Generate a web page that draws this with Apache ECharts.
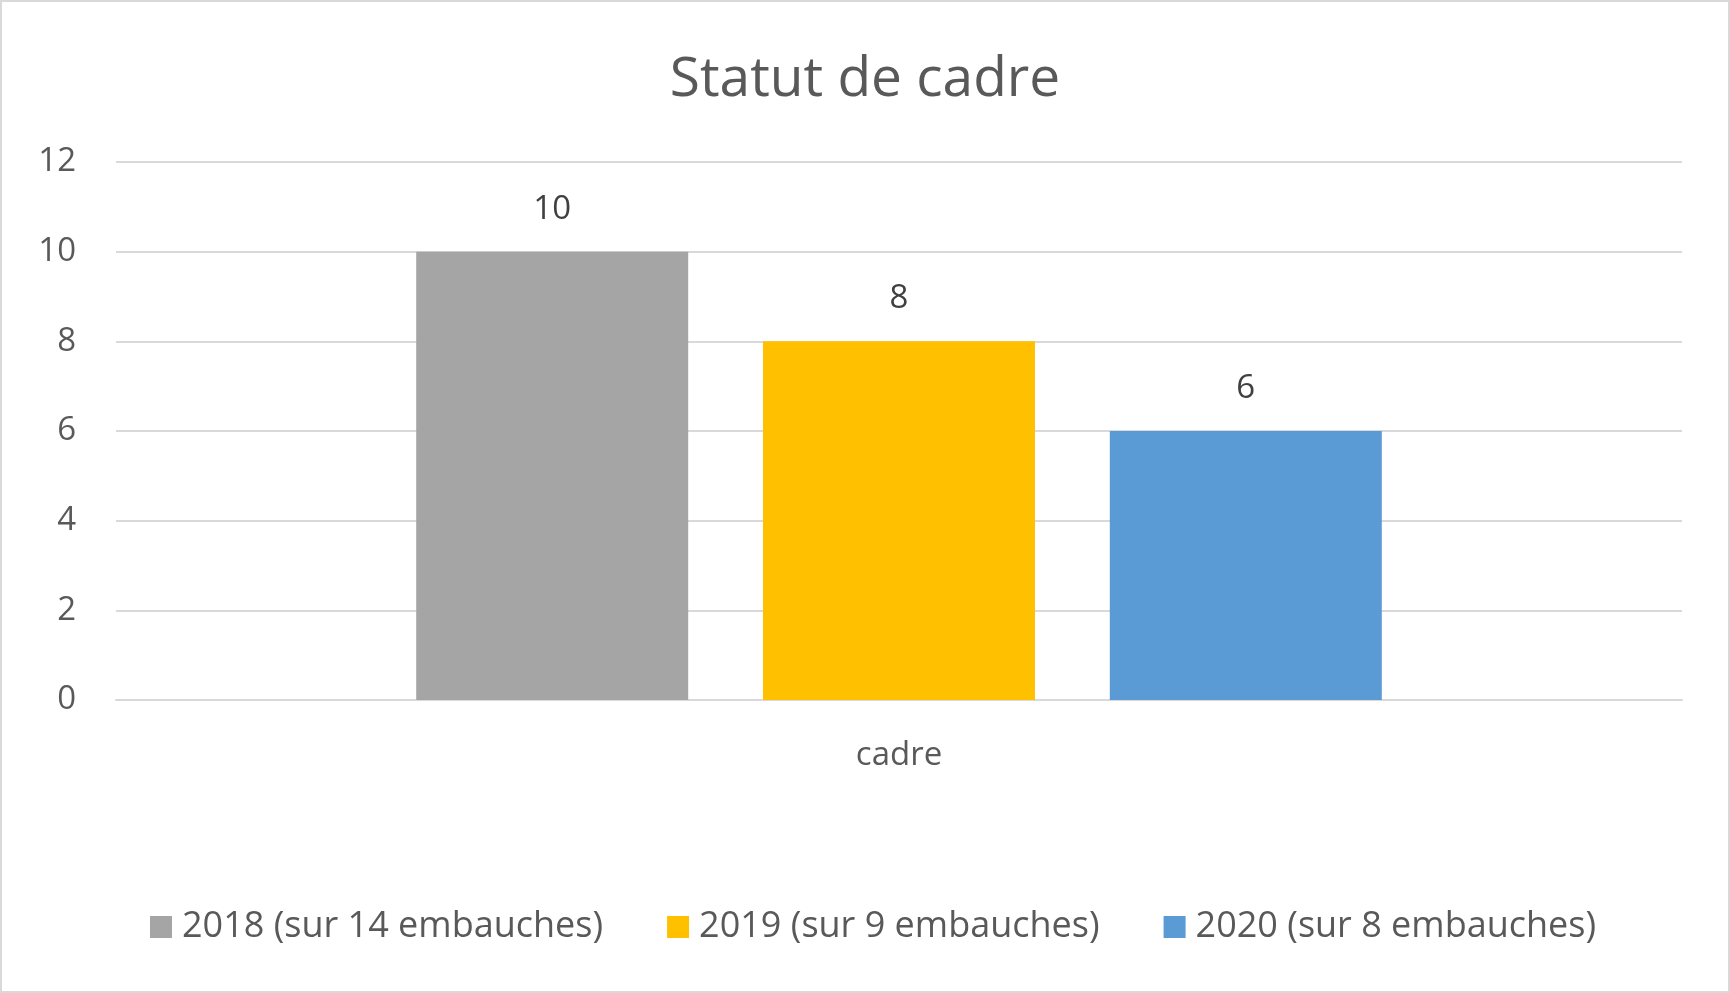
<!DOCTYPE html>
<html>
<head>
<meta charset="utf-8">
<script src="https://cdn.jsdelivr.net/npm/echarts@6/dist/echarts.min.js"></script>
<style>
html, body { margin: 0; padding: 0; background: #fff; }
#chart { width: 1730px; height: 993px; }
</style>
</head>
<body>
<div id="chart"></div>
<script>
var categories = ['cadre'];
var seriesNames = ['2018 (sur 14 embauches)', '2019 (sur 9 embauches)', '2020 (sur 8 embauches)'];
var values2018 = [10];
var values2019 = [8];
var values2020 = [6];
var colors = ['#a5a5a5', '#ffc000', '#5b9bd5'];

(function (bidDiv) {
    var font = 'Open Sans';
    var allValues = [values2018, values2019, values2020];
    var series = seriesNames.map(function (name, i) {
        return {
            name: name,
            type: 'bar',
            data: allValues[i],
            barWidth: 272,
            barGap: '27.5%',
            itemStyle: { color: colors[i] },
            label: {
                show: true,
                position: 'top',
                distance: 26,
                color: '#404040',
                fontFamily: font,
                fontSize: 33
            }
        };
    });
    var option = {
        animation: false,
        backgroundColor: '#fff',
        title: {
            text: 'Statut de cadre',
            left: 'center',
            top: 48,
            textStyle: { color: '#595959', fontFamily: font, fontSize: 55, fontWeight: 'normal' }
        },
        legend: {
            data: seriesNames,
            top: 909,
            left: 150,
            padding: 0,
            itemWidth: 22,
            itemHeight: 22,
            itemGap: 64,
            icon: 'rect',
            textStyle: { color: '#595959', fontFamily: font, fontSize: 36, padding: [0, 0, 0, 5] }
        },
        grid: { left: 116, right: 48, top: 162, bottom: 293 },
        xAxis: {
            type: 'category',
            data: categories,
            axisLine: { lineStyle: { color: '#d9d9d9', width: 2 } },
            axisTick: { show: false },
            axisLabel: { color: '#595959', fontFamily: font, fontSize: 33, margin: 39 }
        },
        yAxis: {
            type: 'value',
            min: 0,
            max: 12,
            interval: 2,
            axisLine: { show: false },
            axisTick: { show: false },
            splitLine: { lineStyle: { color: '#d9d9d9', width: 2 } },
            axisLabel: { color: '#595959', fontFamily: font, fontSize: 33, margin: 40 }
        },
        graphic: [{
            type: 'rect',
            shape: { x: 1, y: 1, width: 1728, height: 991 },
            style: { fill: 'none', stroke: '#d9d9d9', lineWidth: 2 },
            silent: true
        }],
        series: series
    };
    var myChart = echarts.init(document.getElementById(bidDiv));
    myChart.setOption(option);
})("chart");
</script>
</body>
</html>
